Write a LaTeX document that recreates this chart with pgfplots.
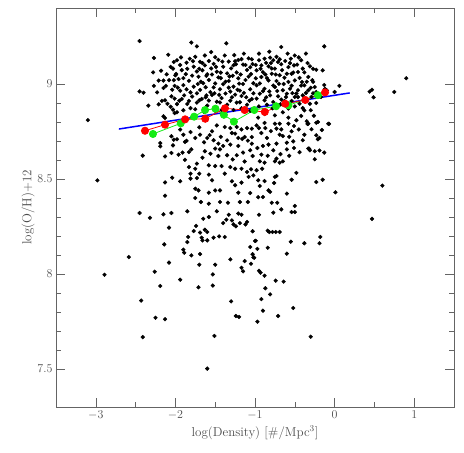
\documentclass[border=0pt]{standalone}
\usepackage{pgfplots}
\usepackage{pgfplotstable}
\pgfplotsset{compat=1.18}

\definecolor{fitblue}{RGB}{0,0,255}
\definecolor{medred}{RGB}{255,0,0}
\definecolor{medgreen}{RGB}{20,235,20}
\definecolor{framegray}{RGB}{100,100,100}

% individual galaxies: log density vs 12+log(O/H)
\pgfplotstableread{
x y
-3.10 8.810
-2.98 8.493
-2.89 7.996
-2.585 8.089
-2.45 9.226
-2.27 9.137
-2.09 9.154
-2.02 9.116
-2.03 9.081
-2.28 9.061
-2.11 9.051
-2.00 9.046
-2.21 9.018
-2.15 9.018
-2.02 9.020
-2.15 8.979
-2.45 8.961
-2.40 8.954
-2.23 8.956
-2.05 8.935
-2.01 8.923
-2.17 8.911
-2.13 8.914
-2.10 8.896
-2.21 8.893
-2.34 8.886
-2.03 8.865
-2.15 8.830
-2.13 8.821
-2.01 8.847
-2.05 8.725
-2.02 8.707
-2.19 8.689
-2.19 8.672
-2.13 8.619
-2.05 8.637
-2.41 8.623
-2.03 8.677
-2.04 8.507
-2.13 8.482
-2.13 8.412
-2.45 8.321
-2.15 8.314
-2.05 8.321
-2.32 8.296
-2.08 8.244
-2.14 8.156
-2.08 8.060
-2.26 8.012
-2.19 7.937
-2.43 7.860
-2.25 7.770
-2.13 7.762
-2.41 7.668
-2.06 9.090
-2.12 8.990
-2.04 8.970
-2.27 8.990
-2.18 9.070
-2.06 8.880
-1.80 9.218
-1.73 9.198
-1.36 9.214
-1.14 9.160
-1.98 9.125
-1.82 9.133
-1.69 9.117
-1.58 9.121
-1.46 9.127
-1.33 9.118
-1.21 9.126
-1.08 9.135
-1.03 9.105
-1.92 9.073
-1.77 9.091
-1.63 9.098
-1.52 9.106
-1.40 9.091
-1.27 9.099
-1.15 9.102
-1.87 9.052
-1.73 9.066
-1.60 9.051
-1.48 9.065
-1.35 9.056
-1.23 9.061
-1.10 9.074
-1.96 9.026
-1.83 9.017
-1.71 9.038
-1.58 9.021
-1.46 9.035
-1.33 9.016
-1.21 9.030
-1.08 9.039
-1.90 8.994
-1.77 8.986
-1.65 9.004
-1.52 8.982
-1.40 8.999
-1.27 8.986
-1.15 9.000
-1.02 9.004
-1.94 8.965
-1.81 8.956
-1.69 8.969
-1.56 8.957
-1.44 8.972
-1.31 8.960
-1.19 8.965
-1.06 8.972
-1.92 8.921
-1.79 8.934
-1.67 8.921
-1.54 8.942
-1.42 8.926
-1.29 8.930
-1.17 8.937
-1.04 8.921
-1.98 8.894
-1.85 8.895
-1.73 8.902
-1.60 8.886
-1.48 8.907
-1.35 8.891
-1.23 8.902
-1.10 8.891
-1.90 8.862
-1.75 8.867
-1.50 8.859
-1.27 8.863
-1.06 8.859
-1.94 9.100
-1.86 9.112
-1.75 9.143
-1.66 9.072
-1.55 9.082
-1.50 9.141
-1.41 9.118
-1.30 9.082
-1.24 9.104
-1.17 9.131
-1.06 9.088
-1.99 9.053
-1.90 9.031
-1.79 9.044
-1.68 9.012
-1.61 9.043
-1.50 9.003
-1.43 9.031
-1.37 9.012
-1.28 9.043
-1.20 9.002
-1.12 9.021
-1.05 9.052
-1.97 8.981
-1.86 8.972
-1.73 8.951
-1.62 8.983
-1.51 8.951
-1.45 8.943
-1.33 8.981
-1.25 8.944
-1.14 8.953
-1.02 8.951
-1.95 8.912
-1.83 8.911
-1.70 8.914
-1.58 8.913
-1.44 8.903
-1.31 8.912
-1.19 8.904
-1.07 8.912
-1.81 8.873
-1.64 8.852
-1.42 8.863
-1.17 8.872
-1.98 8.851
-1.55 9.168
-1.26 9.152
-1.63 9.150
-2.08 9.020
-2.01 8.990
-1.93 9.140
-1.85 9.080
-1.78 9.120
-1.72 9.000
-1.66 9.110
-1.61 8.940
-1.54 9.050
-1.49 9.090
-1.43 9.060
-1.38 9.150
-1.32 9.040
-1.25 9.120
-1.18 9.050
-1.12 9.100
-1.04 9.130
-0.99 9.030
-0.93 9.080
-0.87 9.050
-0.80 9.110
-0.74 9.050
-0.69 9.130
-0.64 9.000
-0.56 9.110
-0.52 9.060
-0.45 9.140
-0.41 9.010
-0.34 9.110
-0.30 8.980
-1.89 8.940
-1.62 8.930
-1.37 8.950
-1.11 8.930
-0.86 8.930
-0.63 8.910
-0.48 8.950
-1.70 9.080
-1.22 8.970
-0.95 9.160
-0.67 9.195
-0.13 9.198
-0.59 9.160
-0.95 9.125
-0.88 9.133
-0.81 9.139
-0.77 9.125
-0.71 9.116
-0.92 9.098
-0.98 9.072
-0.83 9.093
-0.75 9.081
-0.67 9.104
-0.58 9.089
-0.51 9.098
-0.42 9.125
-0.40 9.081
-0.46 9.063
-0.33 9.037
-0.27 9.011
-0.23 9.075
-0.15 9.072
-0.25 8.984
-0.54 9.054
-0.60 9.054
-0.69 9.046
-0.79 9.054
-0.92 9.037
-0.83 9.019
-0.73 9.016
-0.58 9.011
-0.50 9.019
-0.38 8.993
-0.98 8.993
-0.88 8.975
-0.75 8.984
-0.65 8.967
-0.56 8.975
-0.46 8.967
-0.33 8.967
-0.23 8.958
-0.10 8.967
-0.94 8.949
-0.81 8.940
-0.71 8.935
-0.60 8.949
-0.50 8.932
-0.40 8.940
-0.29 8.932
-0.17 8.932
-0.98 8.923
-0.88 8.914
-0.77 8.905
-0.67 8.918
-0.54 8.911
-0.44 8.896
-0.31 8.896
-0.23 8.900
-0.38 8.861
-0.75 8.835
-0.96 8.823
-0.58 8.823
-0.48 8.809
-0.35 8.804
-0.27 9.080
-0.28 9.020
-0.13 8.995
-0.12 8.975
0.00 8.958
0.06 8.990
-0.34 8.790
-0.21 8.800
-0.07 8.790
-0.23 8.730
-0.19 8.650
-0.32 8.660
-0.99 9.100
-0.90 9.062
-0.86 9.111
-0.79 9.082
-0.73 9.143
-0.66 9.073
-0.62 9.121
-0.55 9.133
-0.47 9.102
-0.44 9.032
-0.38 9.061
-0.31 9.093
-0.94 9.003
-0.85 9.031
-0.77 8.992
-0.70 9.001
-0.63 9.033
-0.54 8.991
-0.42 8.992
-0.35 9.012
-0.90 8.962
-0.82 8.961
-0.72 8.963
-0.61 8.931
-0.53 8.952
-0.46 8.931
-0.36 8.953
-0.27 8.951
-0.95 8.882
-0.85 8.891
-0.78 8.872
-0.68 8.893
-0.58 8.871
-0.50 8.882
-0.40 8.873
-0.30 8.862
-0.88 8.842
-0.65 8.851
-0.42 8.832
-0.26 8.833
-0.36 9.160
-0.82 9.170
-0.50 9.150
-1.81 8.747
-1.90 8.733
-1.69 8.733
-1.75 8.716
-1.60 8.716
-1.54 8.751
-1.48 8.782
-1.38 8.774
-1.31 8.768
-1.23 8.774
-1.17 8.761
-1.10 8.768
-1.04 8.765
-1.25 8.739
-1.21 8.716
-1.13 8.721
-1.04 8.721
-1.98 8.709
-1.88 8.695
-1.52 8.704
-1.46 8.686
-1.40 8.674
-1.31 8.681
-1.21 8.674
-1.04 8.686
-1.96 8.628
-1.91 8.639
-1.83 8.642
-1.80 8.656
-1.63 8.646
-1.50 8.660
-1.44 8.656
-1.35 8.625
-1.23 8.625
-1.15 8.639
-1.06 8.651
-1.73 8.581
-1.75 8.554
-1.83 8.563
-1.58 8.572
-1.50 8.568
-1.42 8.568
-1.31 8.563
-1.25 8.554
-1.17 8.554
-1.10 8.537
-1.05 8.551
-1.02 8.519
-1.81 8.528
-1.70 8.528
-1.58 8.523
-1.38 8.528
-1.08 8.511
-1.94 8.488
-1.81 8.502
-1.73 8.505
-1.54 8.493
-1.29 8.488
-1.25 8.467
-1.17 8.481
-1.75 8.449
-1.71 8.440
-1.58 8.428
-1.50 8.440
-1.44 8.440
-1.21 8.428
-1.06 8.426
-1.75 8.400
-1.68 8.379
-1.58 8.370
-1.44 8.379
-1.34 8.375
-1.19 8.379
-1.09 8.379
-1.85 8.330
-1.48 8.330
-1.33 8.312
-1.21 8.318
-1.17 8.312
-1.94 8.760
-1.86 8.701
-1.70 8.772
-1.64 8.693
-1.57 8.731
-1.43 8.722
-1.35 8.703
-1.29 8.742
-1.16 8.711
-1.09 8.702
-1.88 8.601
-1.66 8.612
-1.56 8.633
-1.46 8.621
-1.28 8.603
-1.13 8.592
-1.03 8.621
-0.98 8.782
-0.95 8.768
-0.88 8.795
-0.87 8.768
-0.75 8.791
-0.73 8.765
-0.69 8.791
-0.67 8.761
-0.58 8.791
-0.51 8.779
-0.33 8.791
-0.23 8.796
-0.08 8.791
-0.69 8.733
-0.65 8.726
-0.54 8.751
-0.38 8.733
-0.19 8.716
-0.21 8.709
-0.85 8.716
-0.90 8.674
-0.83 8.681
-0.73 8.686
-0.60 8.691
-0.52 8.698
-0.40 8.704
-0.33 8.660
-0.31 8.651
-0.25 8.646
-0.13 8.639
-0.97 8.663
-0.77 8.651
-0.60 8.656
-0.51 8.663
-0.92 8.628
-0.25 8.604
-0.94 8.593
-0.88 8.586
-0.75 8.593
-0.73 8.607
-0.69 8.586
-0.65 8.593
-0.48 8.532
-0.54 8.496
-0.23 8.484
-0.15 8.496
-0.98 8.546
-0.91 8.554
-0.75 8.511
-0.73 8.516
-0.76 8.479
-0.96 8.493
-0.88 8.489
-0.94 8.463
-0.83 8.440
-0.81 8.432
-0.60 8.423
-0.96 8.404
-0.90 8.405
-0.79 8.375
-0.72 8.375
-0.50 8.358
-0.67 8.340
-0.54 8.326
-0.50 8.326
-0.77 8.323
-0.95 8.312
-0.92 8.742
-0.80 8.752
-0.57 8.722
-0.45 8.761
-0.29 8.762
-0.16 8.758
-0.84 8.622
-0.68 8.631
-0.57 8.622
-0.44 8.641
-1.65 8.291
-1.58 8.300
-1.40 8.268
-1.36 8.286
-1.29 8.282
-1.27 8.261
-1.24 8.251
-1.19 8.268
-1.12 8.261
-1.10 8.274
-1.03 8.225
-1.74 8.253
-1.77 8.226
-1.69 8.218
-1.63 8.233
-1.60 8.221
-1.84 8.195
-1.85 8.168
-1.67 8.191
-1.66 8.177
-1.60 8.177
-1.52 8.191
-1.45 8.198
-1.38 8.195
-1.00 8.174
-1.90 8.128
-1.89 8.112
-1.80 8.098
-1.69 8.105
-1.06 8.142
-1.03 8.104
-1.01 8.086
-1.05 8.054
-1.13 8.068
-1.31 8.077
-1.17 8.033
-1.15 8.014
-1.70 8.049
-1.50 8.049
-1.94 7.970
-1.53 7.998
-1.71 7.930
-1.53 7.939
-1.30 7.856
-1.24 7.779
-1.20 7.774
-1.51 7.674
-1.60 7.502
-0.99 8.175
-0.84 8.228
-0.82 8.221
-0.78 8.221
-0.74 8.221
-0.69 8.221
-0.84 8.138
-0.97 8.132
-1.02 8.088
-0.95 8.017
-0.93 8.007
-0.88 7.991
-0.74 7.965
-0.64 7.960
-0.60 8.107
-0.55 8.170
-0.38 8.162
-0.18 8.195
-0.19 8.162
-0.87 7.925
-0.81 7.893
-0.92 7.868
-0.90 7.807
-0.71 7.779
-0.52 7.821
-0.97 7.749
-0.30 7.670
0.01 8.430
0.60 8.465
0.47 8.290
0.44 8.960
0.47 8.970
0.49 8.930
0.75 8.958
0.90 9.030
}\galaxies

\begin{document}
\begin{tikzpicture}
\begin{axis}[
    scale only axis,
    width=398pt, height=399pt,
    xmin=-3.5, xmax=1.5,
    ymin=7.3, ymax=9.4,
    xtick={-3,-2,-1,0,1},
    ytick={7.5,8,8.5,9},
    minor x tick num=1,
    minor y tick num=4,
    tick align=inside,
    major tick length=9pt,
    minor tick length=5pt,
    axis line style={framegray},
    every tick/.style={framegray},
    tick label style={font=\fontsize{12}{14}\selectfont, text=black!70},
    label style={font=\fontsize{13}{15}\selectfont, text=black!70},
    xlabel={log(Density) [\#/Mpc$^3$]},
    ylabel={log(O/H)+12},
    ylabel style={yshift=-4pt},
    clip=false,
]
\addplot[only marks, mark=*, mark size=1.9pt, black] table {\galaxies};

\addplot[fitblue, line width=1.5pt] coordinates {(-2.71,8.763) (0.19,8.953)};

\addplot[medgreen, line width=0.8pt, mark=*, mark size=3.6pt,
    mark options={fill=medgreen, draw=medgreen}] coordinates {
    (-2.282,8.737) (-1.933,8.793) (-1.765,8.828) (-1.627,8.863)
    (-1.497,8.870) (-1.391,8.838) (-1.265,8.802) (-1.009,8.863)
    (-0.735,8.883) (-0.580,8.888) (-0.210,8.941)
};

\addplot[medred, line width=0.8pt, mark=*, mark size=3.6pt,
    mark options={fill=medred, draw=medred}] coordinates {
    (-2.382,8.754) (-2.130,8.786) (-1.878,8.814) (-1.625,8.817)
    (-1.377,8.872) (-1.130,8.863) (-0.877,8.853) (-0.620,8.896)
    (-0.368,8.916) (-0.120,8.956)
};
\end{axis}
\pgfresetboundingbox
\path (current axis.south west) ++(-56pt,-46pt) rectangle ++(464pt,453pt);
\end{tikzpicture}
\end{document}
